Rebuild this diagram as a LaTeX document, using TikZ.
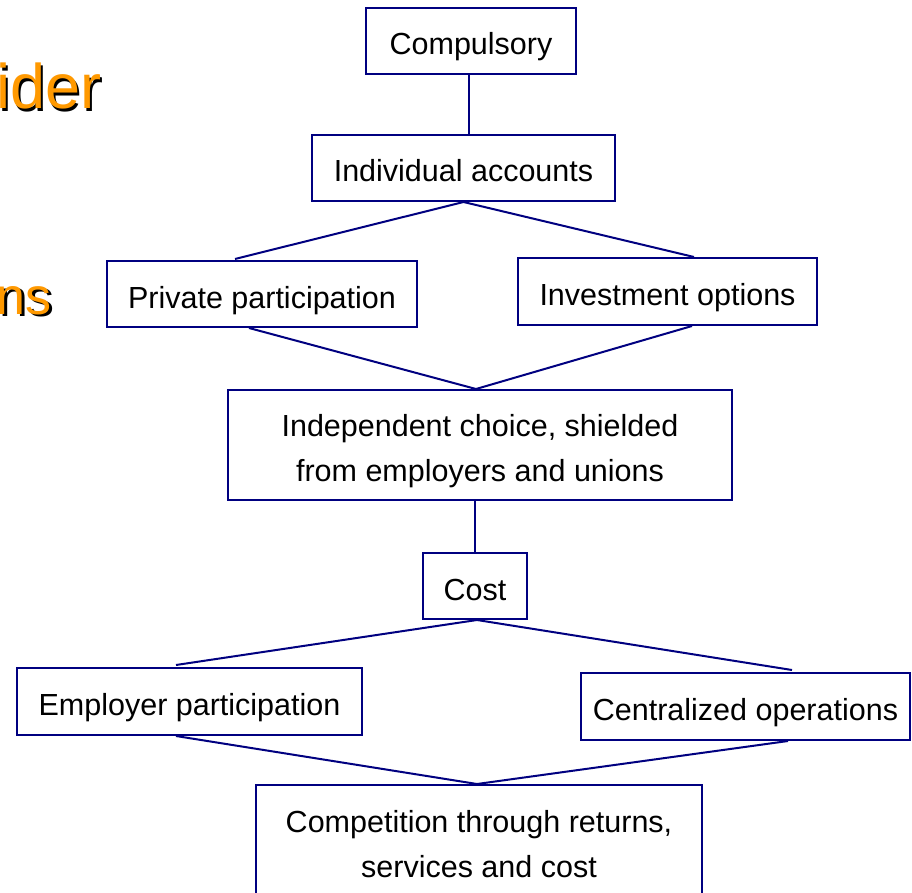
\documentclass[tikz,border=0pt]{standalone}
\usepackage{fontspec}
\setmainfont{Liberation Sans}
\usetikzlibrary{calc}
\definecolor{navy}{RGB}{0,0,128}
\definecolor{bulletorange}{RGB}{255,153,0}
\begin{document}
\begin{tikzpicture}[x=1pt,y=-1pt,
  box/.style={draw=navy, line width=2pt, inner sep=0pt, align=center,
              text depth=0pt, text height=28pt,
              font=\fontsize{30.5}{45}\selectfont},
  twoline/.style={text height=73pt},
  link/.style={draw=navy, line width=2pt},
  bigword/.style={anchor=base west, inner sep=0pt},
]
\path[use as bounding box, clip] (0,0) rectangle (912,893);
\fill[white] (0,0) rectangle (912,893);

% orange slide words with a dark drop shadow
\node[bigword, text=black] (w1s) at (-1.5,111.5)
  {\fontsize{63}{70}\selectfont ider};
\node[bigword, text=bulletorange] (w1) at (-4,109)
  {\fontsize{63}{70}\selectfont ider};
\node[bigword, text=black] (w2s) at (-1,316.5)
  {\fontsize{52}{56}\selectfont ns};
\node[bigword, text=bulletorange] (w2) at (-3.5,314)
  {\fontsize{52}{56}\selectfont ns};

% boxes
\node[box, minimum width=210pt, minimum height=66pt] (comp) at (471,41) {Compulsory};
\node[box, minimum width=303pt, minimum height=66pt] (indiv) at (463.5,168) {Individual accounts};
\node[box, minimum width=310pt, minimum height=66pt] (priv) at (262,294) {Private participation};
\node[box, minimum width=299pt, minimum height=67pt] (inv) at (667.5,291.5) {Investment options};
\node[box, twoline, minimum width=504pt, minimum height=110pt] (indep) at (480,445)
  {Independent choice, shielded\\from employers and unions};
\node[box, minimum width=104pt, minimum height=66pt] (cost) at (475,586) {Cost};
\node[box, minimum width=345pt, minimum height=67pt] (emp) at (189.5,701.5) {Employer participation};
\node[box, minimum width=329pt, minimum height=67pt] (cent) at (745.5,706.5) {Centralized operations};
\node[box, twoline, minimum width=446pt, minimum height=112pt] (compet) at (479,841)
  {Competition through returns,\\services and cost};

% connectors
\coordinate (cv) at ($(comp.south)+(-2.5,0)$);
\draw[link] (cv) -- (cv |- indiv.north);
\draw[link] ($(priv.north)+(-27,-1)$) -- (indiv.south) -- ($(inv.north)+(26.5,0)$);
\draw[link] ($(priv.south)+(-13,0)$) -- ($(indep.north)+(-4,0)$) -- ($(inv.south)+(24.5,0)$);
\draw[link] ($(indep.south)+(-5,0)$) -- (cost.north);
\draw[link] ($(emp.north)+(-13.5,-2)$) -- ($(cost.south)+(2,0)$) -- ($(cent.north)+(46.5,-2)$);
\draw[link] ($(emp.south)+(-13.5,0)$) -- ($(compet.north)+(-2,0)$) -- ($(cent.south)+(42.5,0)$);
\end{tikzpicture}
\end{document}
